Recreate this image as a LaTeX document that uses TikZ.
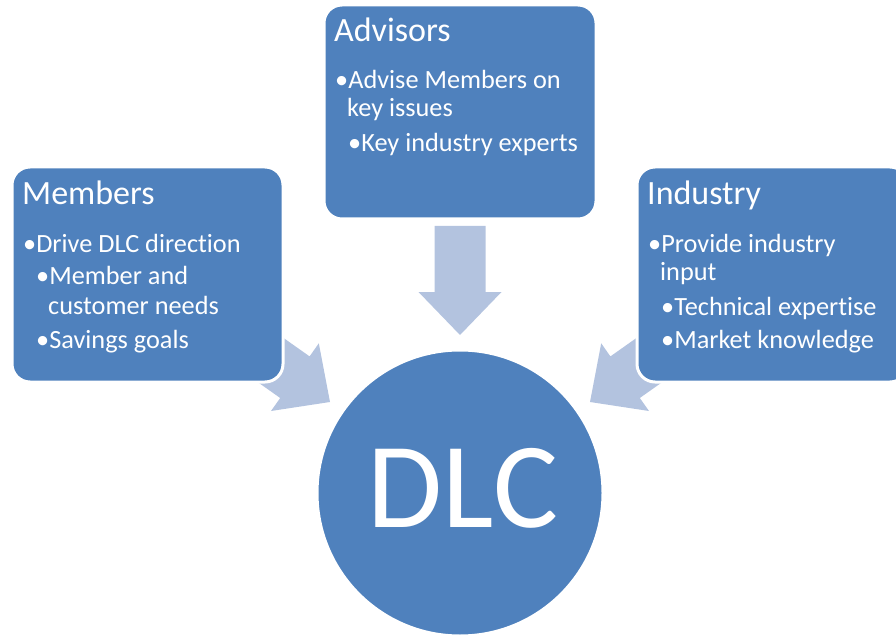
\documentclass[tikz,border=0pt]{standalone}
\usepackage{fontspec}
\setmainfont{Carlito}[Ligatures={NoCommon}]
\definecolor{boxblue}{HTML}{4F81BD}
\definecolor{arrowblue}{HTML}{B3C3DF}
\begin{document}
\begin{tikzpicture}[x=1pt,y=-1pt,
  panel/.style={fill=boxblue,draw=white,line width=3pt,rounded corners=18pt},
  blockarrow/.style={fill=arrowblue,draw=none},
  ttl/.style={anchor=base west,inner sep=0pt,text=white,font=\fontsize{34}{40}\selectfont},
  txt/.style={anchor=base west,inner sep=0pt,text=white,font=\fontsize{26.3}{30}\selectfont}]
\useasboundingbox (0,0) rectangle (896,636);
\clip (0,0) rectangle (896,636);
% block arrows
\path[blockarrow] (434.5,226) -- (485.5,226) -- (485.5,292) -- (501.5,292) -- (460,335) -- (418.5,292) -- (434.5,292) -- cycle;
\path[blockarrow] (330,402) -- (318.8,343.3) -- (309.6,356.4) -- (255.7,318.3) -- (226.3,359.9) -- (280.2,398.0) -- (271,411) -- cycle;
\path[blockarrow] (590,402) -- (601.2,343.3) -- (610.4,356.4) -- (664.3,318.3) -- (693.7,359.9) -- (639.8,398.0) -- (649,411) -- cycle;
% panels
\path[panel] (324,5) rectangle (596,219);
\path[panel] (12,167) rectangle (283,382);
\path[panel] (637,167) rectangle (908,382);
\node[circle,fill=boxblue,draw=white,line width=3pt,minimum size=286pt,inner sep=0pt] (dlc) at (460,493) {};
\node[anchor=base,inner sep=0pt,text=white,font=\fontsize{122}{124}\selectfont] (dlctext) at (463,527) {DLC};
% Advisors text
\node[ttl] (advt) at (334,42) {Advisors};
\node[txt] (adv1) at (335,89) {•Advise Members on};
\node[txt] (adv1b) at (347,117) {key issues};
\node[txt] (adv2) at (348,152) {•Key industry experts};
% Members text
\node[ttl] (memt) at (22,205) {Members};
\node[txt] (mem1) at (23,252) {•Drive DLC direction};
\node[txt] (mem2) at (36,284) {•Member and};
\node[txt] (mem2b) at (48,314) {customer needs};
\node[txt] (mem3) at (36,348) {•Savings goals};
% Industry text
\node[ttl] (indt) at (647,205) {Industry};
\node[txt] (ind1) at (648,252) {•Provide industry};
\node[txt] (ind1b) at (660,280) {input};
\node[txt] (ind2) at (661,315) {•Technical expertise};
\node[txt] (ind3) at (661,348) {•Market knowledge};
\end{tikzpicture}
\end{document}
